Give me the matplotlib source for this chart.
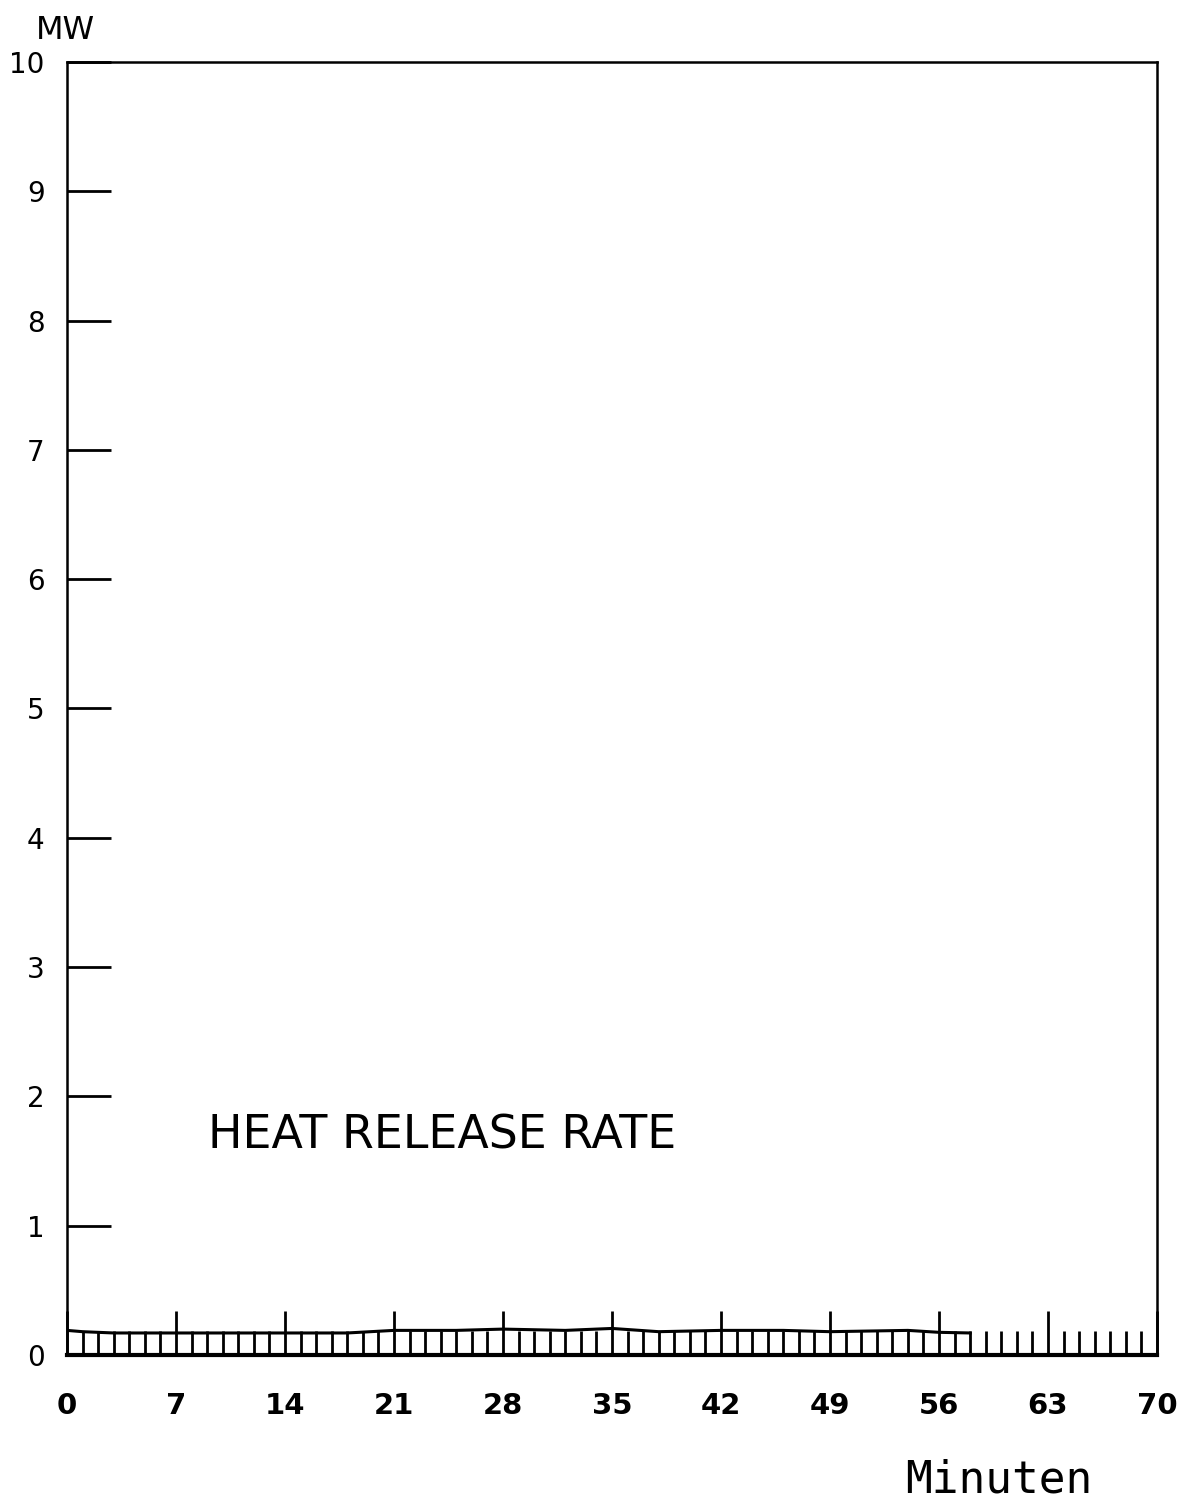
import matplotlib.pyplot as plt

# heat release rate readings (MW) over time (minutes)
minutes = [0, 1, 3, 7, 10, 14, 18, 21, 25, 28, 32, 35, 38, 42, 46, 49, 54, 56, 58]
heat_release = [0.19, 0.18, 0.17, 0.17, 0.17, 0.17, 0.17, 0.19, 0.19, 0.20, 0.19, 0.205, 0.18, 0.19, 0.19, 0.18, 0.19, 0.175, 0.17]

x_ticks = list(range(0, 71, 7))
y_ticks = list(range(0, 11))


def plot_heat_release():
    fig = plt.figure(figsize=(11.81, 15.04), dpi=100)
    ax = fig.add_axes([0.0567, 0.0991, 0.923, 0.8597])

    ax.plot(minutes, heat_release, color='black', linewidth=2.2)

    ax.set_xlim(0, 70)
    ax.set_ylim(0, 10)

    ax.set_xticks(x_ticks)
    ax.set_xticks(range(0, 71), minor=True)
    ax.set_yticks(y_ticks)

    ax.tick_params(axis='x', which='major', direction='in', length=32, width=2, pad=27,
                   labelsize=21)
    ax.tick_params(axis='x', which='minor', direction='in', length=17, width=2)
    ax.tick_params(axis='y', which='major', direction='in', length=32, width=2, pad=16,
                   labelsize=20)

    for label in ax.get_xticklabels():
        label.set_fontweight('bold')

    for side in ['left', 'right', 'top']:
        ax.spines[side].set_linewidth(1.8)
    ax.spines['bottom'].set_linewidth(3)

    ax.text(9.06, 1.69, 'HEAT RELEASE RATE', fontsize=33, ha='left', va='center')

    fig.text(0.030, 0.980, 'MW', fontsize=23, ha='left', va='center')
    fig.text(0.766, 0.016, 'Minuten', fontsize=32, family='DejaVu Sans Mono',
             ha='left', va='center')

    fig.savefig('out.png', dpi=100)


plot_heat_release()
